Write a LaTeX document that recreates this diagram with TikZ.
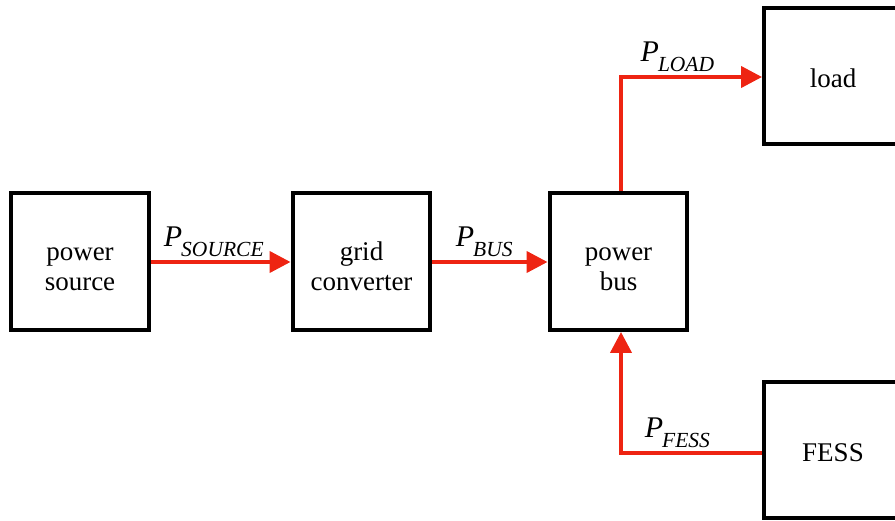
\documentclass[tikz,border=0pt]{standalone}
\usepackage{fontspec}
\setmainfont{Liberation Serif}
\usepackage{xcolor}
\usetikzlibrary{arrows.meta}
\definecolor{flowred}{RGB}{238,36,18}
\tikzstyle{block} = [draw=black, line width=4.4pt, minimum width=137.5pt, minimum height=136.5pt, inner sep=0pt, align=center, text height=24pt, text depth=1pt, font=\fontsize{27}{30}\selectfont]
\tikzstyle{twoline} = [block, text height=58pt]
\tikzstyle{arrow} = [line width=4pt, flowred, -{Triangle[length=21pt,width=21pt]}]
\tikzstyle{flowlabel} = [above, inner sep=0pt, yshift=3pt, text=black, font=\fontsize{30}{32}\selectfont]
\newcommand{\pflow}[1]{\textit{P}\kern-1pt\raisebox{-10pt}{\fontsize{21.5}{22}\selectfont\textit{#1}}}

\begin{document}
\begin{tikzpicture}[x=1pt, y=-1pt]
    \clip (0,0) rectangle (895,520);
    \node[twoline] (source) at (80,261.5) {power\\source};
    \node[twoline] (conv) at (361.5,261.5) {grid\\converter};
    \node[twoline] (bus) at (618.5,261.5) {power\\bus};
    \node[block] (load) at (833,76) {load};
    \node[block] (fess) at (833,450) {FESS};
    \path[use as bounding box] (0,0) rectangle (895,520);

    % Edges
    \draw[arrow] (source.east |- 0,262) -- node[flowlabel, pos=0.45] {\pflow{SOURCE}} (conv.west |- 0,262);
    \draw[arrow] (conv.east |- 0,262) -- node[flowlabel, pos=0.45] {\pflow{BUS}} (bus.west |- 0,262);
    \draw[arrow] ([xshift=2.5pt]bus.north) |- node[flowlabel, pos=0.7] {\pflow{LOAD}} ([yshift=-1pt]load.west);
    \draw[arrow] ([yshift=-3pt]fess.west) -| node[flowlabel, pos=0.3] {\pflow{FESS}} ([xshift=2.5pt]bus.south);
\end{tikzpicture}
\end{document}
